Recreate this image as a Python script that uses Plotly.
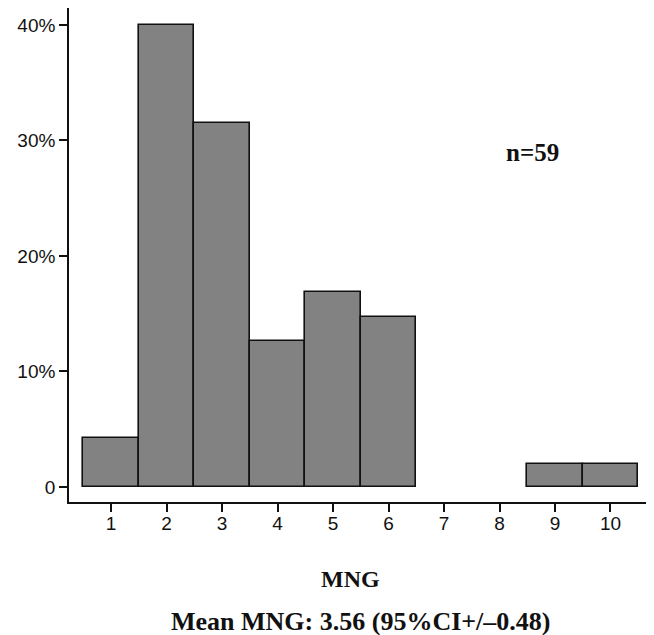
import plotly.graph_objects as go

categories = [1, 2, 3, 4, 5, 6, 7, 8, 9, 10]
percent = [4.2, 40.0, 31.5, 12.6, 16.9, 14.7, 0, 0, 2.0, 2.0]
ytick_vals = [0, 10, 20, 30, 40]
ytick_text = ["0", "10%", "20%", "30%", "40%"]

xs = [c for c, v in zip(categories, percent) if v > 0]
ys = [v for v in percent if v > 0]

fig = go.Figure()
fig.add_trace(go.Bar(
    x=xs, y=ys, width=1,
    marker=dict(color="#828282", line=dict(color="#111111", width=1.6)),
))

serif = "Liberation Serif, Times New Roman, serif"
fig.update_layout(
    width=654, height=635,
    margin=dict(l=61, r=11, t=0, b=141),
    paper_bgcolor="white", plot_bgcolor="white",
    showlegend=False, bargap=0,
    font=dict(family="Liberation Sans, Arial, sans-serif", size=19, color="#111111"),
    xaxis=dict(
        range=[0.242, 10.73], tickvals=categories, ticktext=[str(c) for c in categories],
        showline=True, linecolor="#111111", linewidth=1.6,
        ticks="outside", ticklen=8, tickwidth=1.6, tickcolor="#111111",
        ticklabelstandoff=-5,
        showgrid=False, zeroline=False,
    ),
    yaxis=dict(
        range=[-1.30, 41.47], tickvals=ytick_vals, ticktext=ytick_text,
        showline=True, linecolor="#111111", linewidth=1.6,
        ticks="outside", ticklen=8, tickwidth=1.6, tickcolor="#111111",
        showgrid=False, zeroline=False,
    ),
    annotations=[
        dict(x=8.60, y=28.96, xref="x", yref="y", text="<b>n=59</b>", showarrow=False,
             xanchor="center", yanchor="middle",
             font=dict(family=serif, size=25, color="#111111")),
        dict(x=0.4845, y=-0.156, xref="paper", yref="paper", text="<b>MNG</b>", showarrow=False,
             xanchor="center", yanchor="middle",
             font=dict(family=serif, size=24, color="#111111")),
        dict(x=0.502, y=-0.241, xref="paper", yref="paper",
             text="<b>Mean MNG: 3.56 (95%CI+/–0.48)</b>", showarrow=False,
             xanchor="center", yanchor="middle",
             font=dict(family=serif, size=26, color="#111111")),
    ],
)

fig.write_html("out.html")
